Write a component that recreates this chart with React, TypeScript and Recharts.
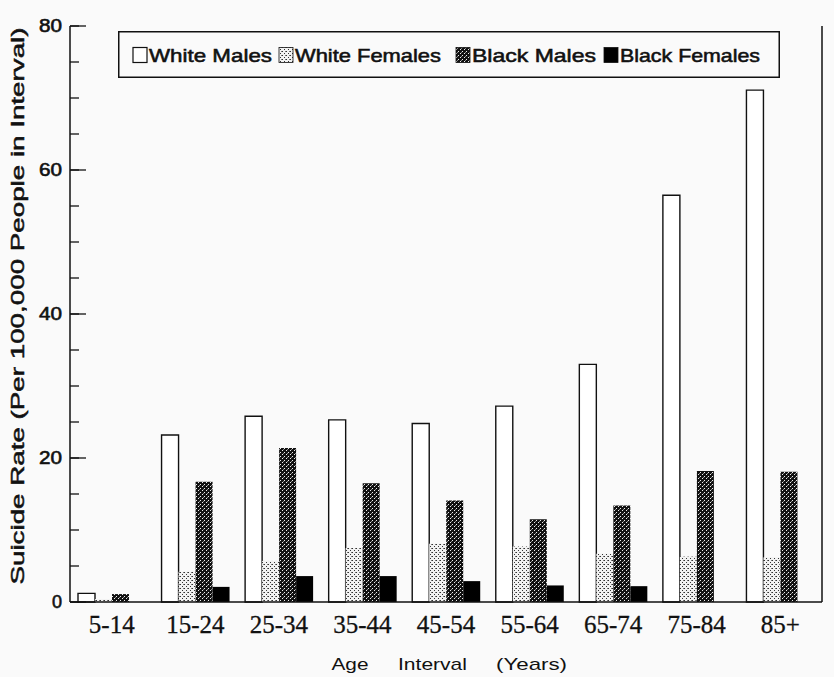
import React from 'react';
import { BarChart, Bar, XAxis, YAxis, Legend } from 'recharts';

const categories = ['5-14', '15-24', '25-34', '35-44', '45-54', '55-64', '65-74', '75-84', '85+'];
const whiteMales = [1.2, 23.2, 25.8, 25.3, 24.8, 27.2, 33.0, 56.5, 71.1];
const whiteFemales = [0.4, 4.2, 5.7, 7.5, 8.1, 7.7, 6.7, 6.3, 6.2];
const blackMales = [1.1, 16.7, 21.4, 16.5, 14.1, 11.5, 13.4, 18.2, 18.1];
const blackFemales = [0, 2.1, 3.6, 3.6, 2.9, 2.3, 2.2, 0, 0];
const yTicks = [0, 5, 10, 15, 20, 25, 30, 35, 40, 45, 50, 55, 60, 65, 70, 75, 80];
const yMajor = [0, 20, 40, 60, 80];
const seriesNames = ['White Males', 'White Females', 'Black Males', 'Black Females'];
const xTitleWords = ['Age', 'Interval', '(Years)'];
const yTitle = 'Suicide Rate (Per 100,000 People in Interval)';

const data = categories.map((c, i) => ({
  cat: c,
  wm: whiteMales[i],
  wf: whiteFemales[i],
  bm: blackMales[i],
  bf: blackFemales[i],
}));

const SANS = '"Liberation Sans", Arial, sans-serif';
const SERIF = '"Liberation Serif", "Times New Roman", serif';
const BG = '#fafafa';
const INK = '#111';

const YTick = (props: any) => {
  const { x, y, payload } = props;
  const v = payload.value;
  const axisX = x + 8;
  if (!yMajor.includes(v)) return <g />;
  const s = String(v);
  return (
    <g>
      <line x1={axisX} x2={axisX + 16} y1={y} y2={y} stroke={INK} strokeWidth={1.3} />
      <text
        x={x}
        y={y}
        dy="0.36em"
        textAnchor="end"
        fontFamily={SANS}
        fontSize={18}
        fill={INK}
        stroke={INK}
        strokeWidth={0.6}
        textLength={s.length > 1 ? 23 : undefined}
        lengthAdjust="spacingAndGlyphs"
      >
        {s}
      </text>
    </g>
  );
};

const XTick = (props: any) => {
  const { x, y, payload } = props;
  return (
    <text x={x} y={y + 31} textAnchor="middle" fontFamily={SERIF} fontSize={25} fill={INK} stroke={INK} strokeWidth={0.3}>
      {payload.value}
    </text>
  );
};

const XTitle = (props: any) => {
  const vb = props.viewBox || {};
  const cx = vb.x + vb.width / 2;
  const by = vb.y + 68;
  const offs = [-96, -13.5, 85.5];
  const lens = [37, 69, 71];
  return (
    <g>
      {xTitleWords.map((w, i) => (
        <text
          key={w}
          x={cx + offs[i]}
          y={by}
          textAnchor="middle"
          fontFamily={SANS}
          fontSize={17}
          fill={INK}
          textLength={lens[i]}
          lengthAdjust="spacingAndGlyphs"
        >
          {w}
        </text>
      ))}
    </g>
  );
};

const YTitle = () => (
  <text
    x={0}
    y={0}
    transform="translate(24, 306) rotate(-90)"
    textAnchor="middle"
    fontFamily={SANS}
    fontSize={19}
    fill={INK}
    stroke={INK}
    strokeWidth={0.5}
    textLength={557}
    lengthAdjust="spacingAndGlyphs"
  >
    {yTitle}
  </text>
);

const swatchFills = ['#ffffff', 'url(#wfPat)', 'url(#bmPat)', '#000000'];
const legendSwatchX = [15, 161, 338, 486];
const legendTextX = [31, 177, 354, 502];
const legendTextLen = [123, 146, 124, 140];

const LegendBox = () => (
  <svg width={662} height={47} style={{ display: 'block' }}>
    <rect x={0.75} y={0.75} width={660.5} height={45.5} fill={BG} stroke={INK} strokeWidth={1.5} />
    {seriesNames.map((n, i) => (
      <g key={n}>
        <rect
          x={legendSwatchX[i]}
          y={16.5}
          width={14}
          height={15}
          fill={swatchFills[i]}
          stroke={INK}
          strokeWidth={i === 0 ? 1.2 : 0.8}
        />
        <text
          x={legendTextX[i]}
          y={30.5}
          fontFamily={SANS}
          fontSize={18.5}
          fill={INK}
          stroke={INK}
          strokeWidth={0.55}
          textLength={legendTextLen[i]}
          lengthAdjust="spacingAndGlyphs"
        >
          {n}
        </text>
      </g>
    ))}
  </svg>
);

export default function App() {
  return (
    <div style={{ position: 'absolute', left: 0, top: 0, width: 834, height: 677, background: BG }}>
      <svg width={0} height={0} style={{ position: 'absolute' }}>
        <defs>
          <pattern id="wfPat" width={4} height={4} patternUnits="userSpaceOnUse">
            <rect width={4} height={4} fill="#f2f2f2" />
            <rect x={0} y={0} width={1} height={1} fill="#333" />
            <rect x={2} y={2} width={1} height={1} fill="#333" />
            <rect x={3} y={0} width={1} height={1} fill="#777" />
          </pattern>
          <pattern id="bmPat" width={4} height={4} patternUnits="userSpaceOnUse">
            <rect width={4} height={4} fill="#111" />
            <rect x={0} y={0} width={1} height={1} fill="#eee" />
            <rect x={2} y={2} width={1} height={1} fill="#eee" />
            <rect x={3} y={1} width={1} height={1} fill="#888" />
          </pattern>
        </defs>
      </svg>
      <BarChart
        width={834}
        height={677}
        data={data}
        margin={{ top: 26, right: 0, bottom: 0, left: 0 }}
        barGap={0}
        barSize={17}
      >
        <XAxis
          xAxisId="b"
          dataKey="cat"
          height={75}
          tickLine={false}
          tickSize={0}
          tickMargin={0}
          tick={<XTick />}
          axisLine={{ stroke: INK, strokeWidth: 1.5 }}
          interval={0}
          label={<XTitle />}
        />
        <XAxis
          xAxisId="t"
          dataKey="cat"
          orientation="top"
          height={0}
          tick={false}
          tickLine={false}
          axisLine={{ stroke: INK, strokeWidth: 1.5 }}
        />
        <YAxis
          yAxisId="l"
          width={70}
          domain={[0, 80]}
          ticks={yTicks}
          interval={0}
          tickSize={-9}
          tickMargin={17}
          tick={<YTick />}
          tickLine={{ stroke: INK, strokeWidth: 1.3 }}
          axisLine={{ stroke: INK, strokeWidth: 1.5 }}
          label={<YTitle />}
        />
        <YAxis
          yAxisId="r"
          orientation="right"
          width={12}
          domain={[0, 80]}
          tick={false}
          tickLine={false}
          axisLine={{ stroke: INK, strokeWidth: 1.5 }}
        />
        <Legend
          layout="horizontal"
          verticalAlign="middle"
          align="center"
          content={<LegendBox />}
          wrapperStyle={{ position: 'absolute', left: 118, top: 31, width: 662, height: 47 }}
        />
        <Bar xAxisId="b" yAxisId="l" dataKey="wm" name={seriesNames[0]} fill="#ffffff" stroke={INK} strokeWidth={1.4} isAnimationActive={false} />
        <Bar xAxisId="b" yAxisId="l" dataKey="wf" name={seriesNames[1]} fill="url(#wfPat)" isAnimationActive={false} />
        <Bar xAxisId="b" yAxisId="l" dataKey="bm" name={seriesNames[2]} fill="url(#bmPat)" isAnimationActive={false} />
        <Bar xAxisId="b" yAxisId="l" dataKey="bf" name={seriesNames[3]} fill="#000000" isAnimationActive={false} />
      </BarChart>
    </div>
  );
}
